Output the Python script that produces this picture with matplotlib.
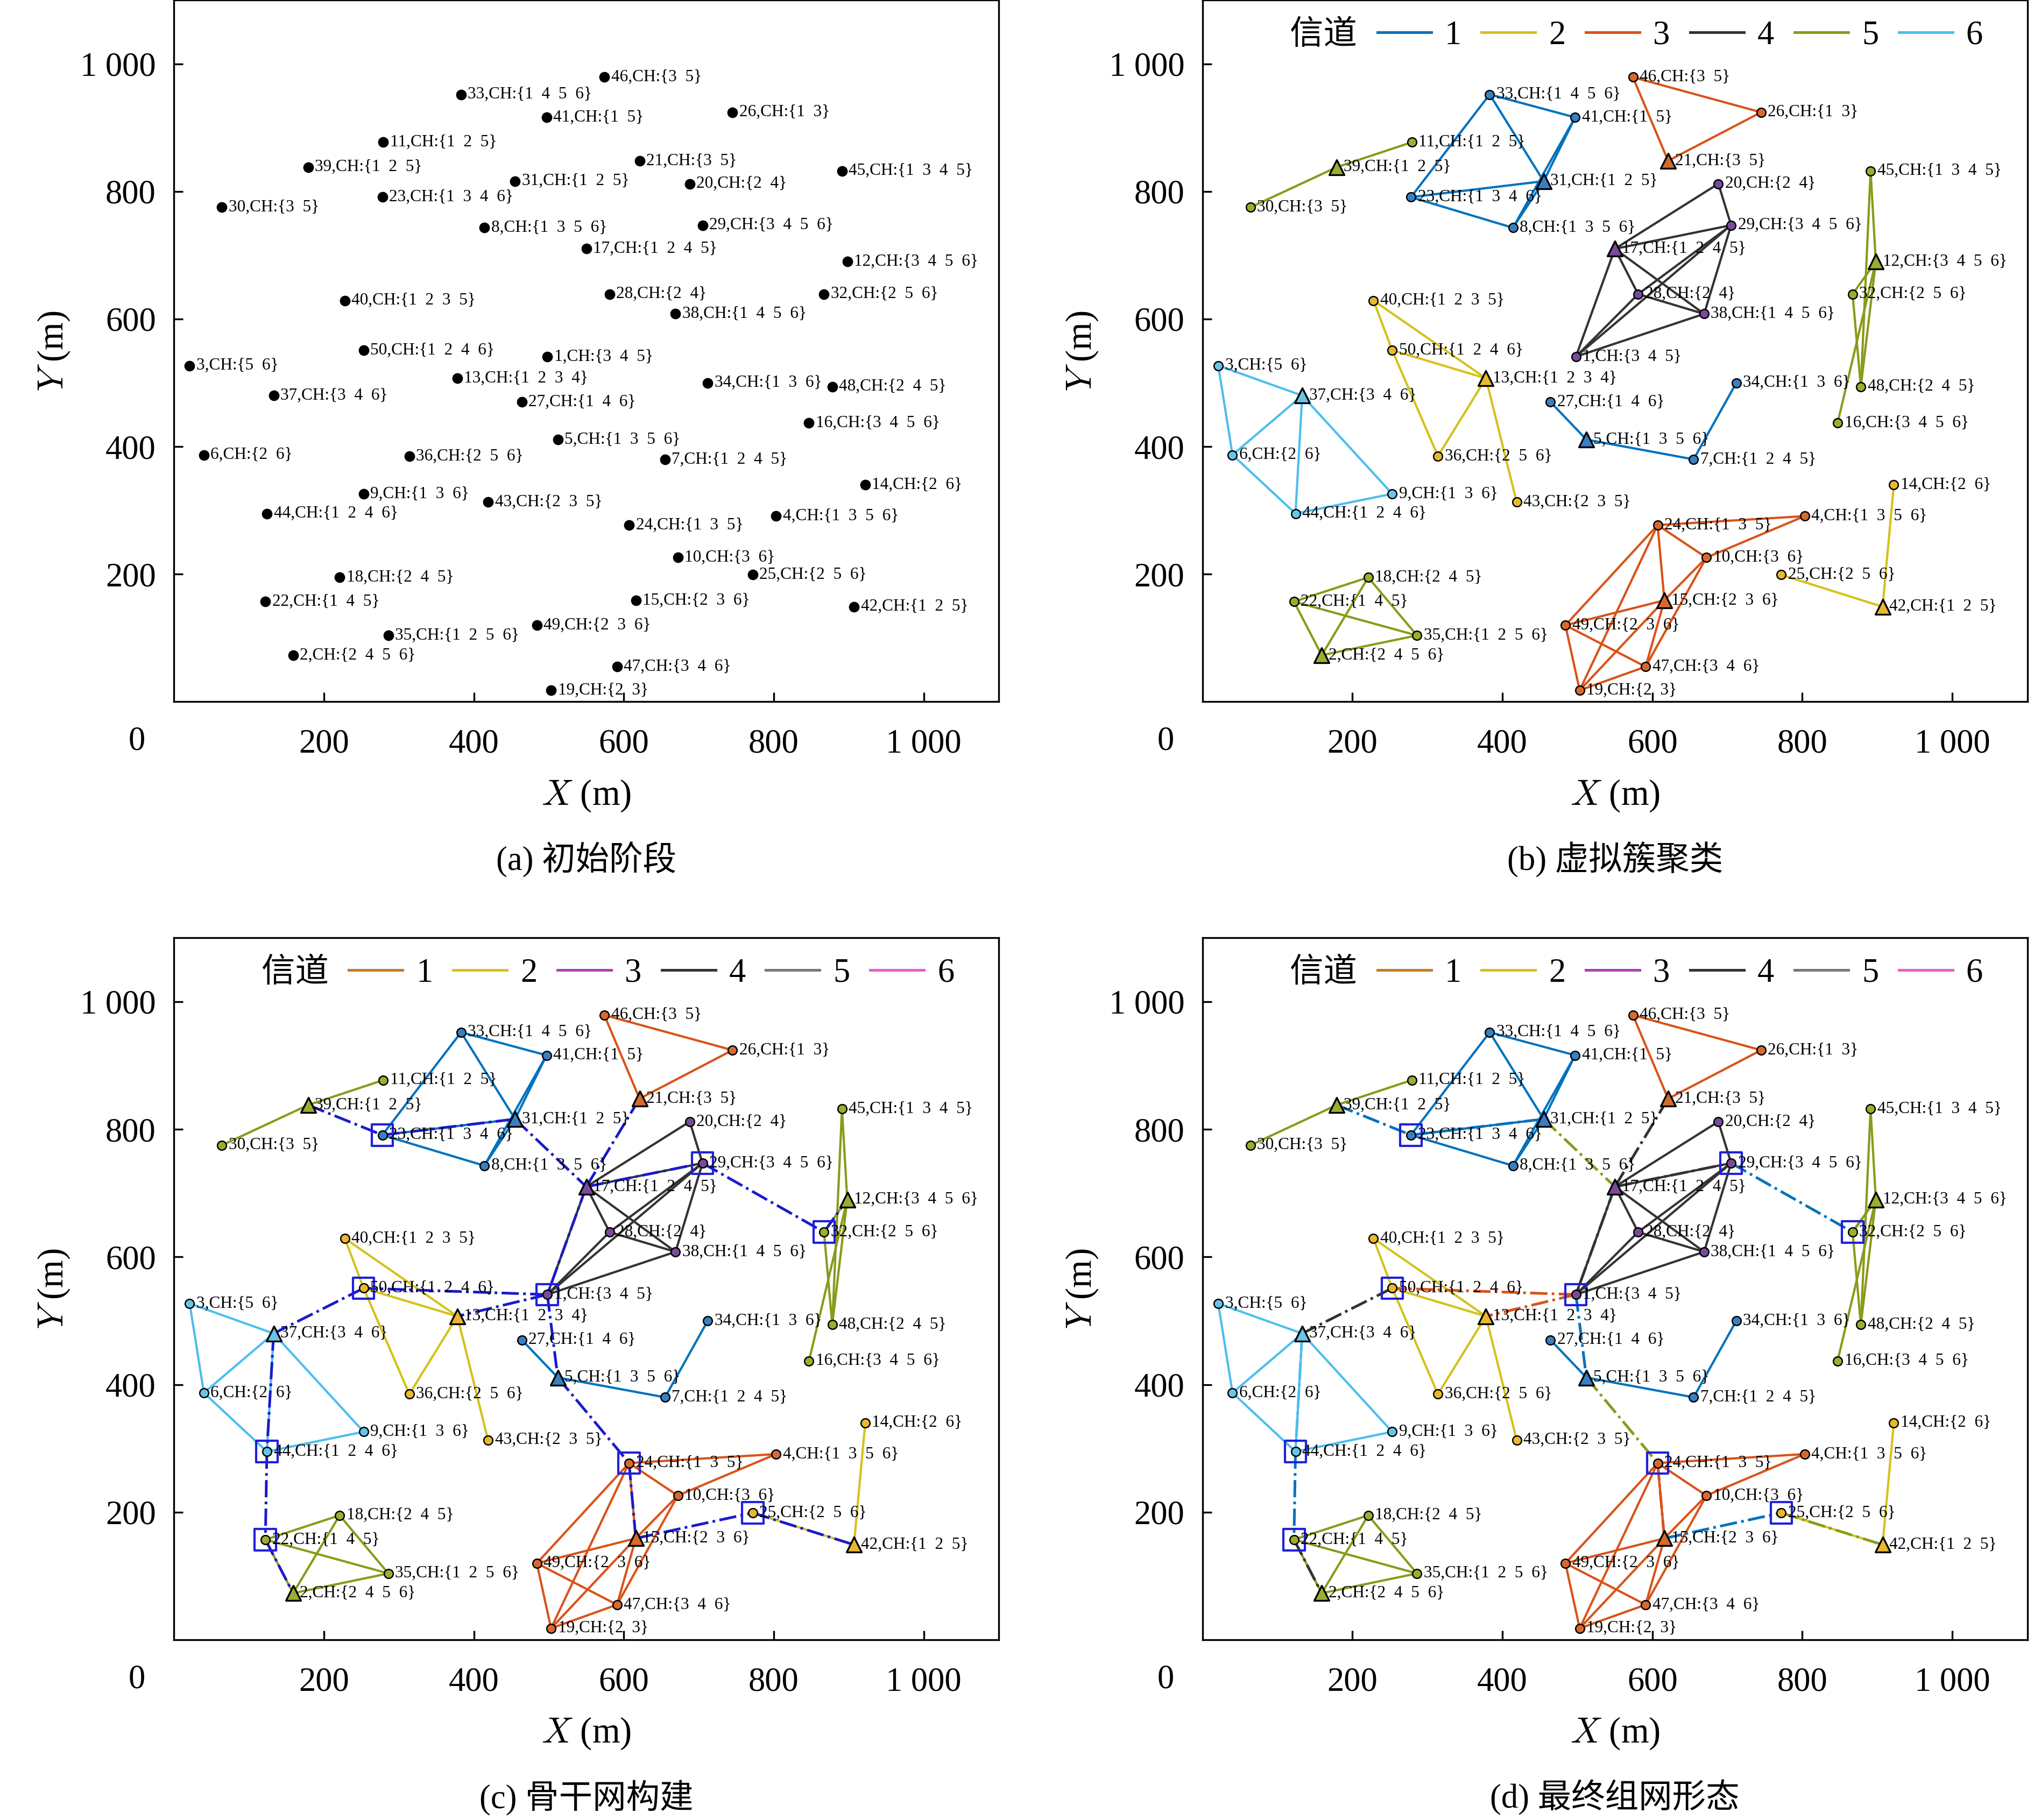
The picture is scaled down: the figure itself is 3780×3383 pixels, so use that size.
import numpy as np
import matplotlib.pyplot as plt
from matplotlib.lines import Line2D

plt.rcParams['font.family'] = ['Liberation Serif', 'Noto Sans CJK SC']
plt.rcParams['mathtext.fontset'] = 'cm'

# Node coordinates (m)
node_x = [498, 159, 21, 803, 512, 40, 655, 414, 253, 672,
          279, 898, 378, 922, 616, 847, 550, 221, 503, 688,
          621, 122, 278, 607, 772, 745, 464, 581, 705, 64,
          455, 867, 383, 712, 286, 314, 133, 669, 179, 228,
          497, 907, 419, 124, 891, 574, 591, 878, 484, 253]
node_y = [541, 73, 527, 291, 411, 387, 380, 743, 326, 226,
          877, 690, 507, 340, 159, 437, 710, 195, 18, 812,
          848, 157, 791, 277, 199, 924, 470, 639, 747, 775,
          816, 639, 952, 500, 104, 385, 480, 608, 838, 629,
          916, 149, 313, 295, 832, 979, 55, 494, 120, 551]
channels = [[3, 4, 5], [2, 4, 5, 6], [5, 6], [1, 3, 5, 6], [1, 3, 5, 6], [2, 6], [1, 2, 4, 5], [1, 3, 5, 6], [1, 3, 6], [3, 6],
            [1, 2, 5], [3, 4, 5, 6], [1, 2, 3, 4], [2, 6], [2, 3, 6], [3, 4, 5, 6], [1, 2, 4, 5], [2, 4, 5], [2, 3], [2, 4],
            [3, 5], [1, 4, 5], [1, 3, 4, 6], [1, 3, 5], [2, 5, 6], [1, 3], [1, 4, 6], [2, 4], [3, 4, 5, 6], [3, 5],
            [1, 2, 5], [2, 5, 6], [1, 4, 5, 6], [1, 3, 6], [1, 2, 5, 6], [2, 5, 6], [3, 4, 6], [1, 4, 5, 6], [1, 2, 5], [1, 2, 3, 5],
            [1, 5], [1, 2, 5], [2, 3, 5], [1, 2, 4, 6], [1, 3, 4, 5], [3, 5], [3, 4, 6], [2, 4, 5], [2, 3, 6], [1, 2, 4, 6]]

# Clusters: (channel, head, members, edges)
clusters = [
    (1, 31, [33, 41, 31, 23, 8], [(33, 41), (33, 23), (33, 31), (41, 31), (41, 8), (23, 31), (23, 8), (8, 31)]),
    (1, 5, [34, 27, 5, 7], [(27, 5), (5, 7), (7, 34)]),
    (3, 21, [46, 26, 21], [(46, 26), (46, 21), (26, 21)]),
    (3, 15, [24, 4, 10, 15, 49, 19, 47], [(24, 4), (24, 10), (24, 15), (24, 49), (24, 19), (10, 4), (10, 15), (10, 47),
                                          (15, 49), (15, 47), (15, 19), (49, 19), (49, 47), (19, 47)]),
    (4, 17, [20, 29, 17, 28, 38, 1], [(17, 20), (17, 29), (17, 28), (17, 38), (17, 1), (20, 29), (28, 29), (29, 38),
                                      (28, 38), (1, 29), (1, 28), (1, 38)]),
    (5, 39, [11, 39, 30], [(39, 11), (39, 30)]),
    (5, 12, [45, 12, 32, 48, 16], [(45, 12), (45, 48), (12, 32), (12, 48), (12, 16), (32, 48)]),
    (5, 2, [18, 22, 2, 35], [(18, 22), (18, 2), (18, 35), (22, 2), (22, 35), (2, 35)]),
    (2, 13, [40, 50, 13, 36, 43], [(40, 50), (40, 13), (50, 13), (50, 36), (13, 36), (13, 43)]),
    (2, 42, [14, 25, 42], [(14, 42), (25, 42)]),
    (6, 37, [3, 37, 6, 9, 44], [(3, 37), (3, 6), (37, 6), (37, 9), (37, 44), (6, 44), (9, 44)]),
]

gateways = [23, 50, 44, 22, 1, 24, 25, 29, 32]
backbone = [(39, 23), (23, 31), (31, 17), (17, 29), (29, 32), (32, 12), (21, 17), (17, 1), (1, 50),
            (50, 37), (37, 44), (44, 22), (22, 2), (1, 13), (1, 5), (5, 24), (24, 15), (15, 25), (25, 42)]
backbone_ch_d = [1, 1, 5, 4, 1, 5, 4, 4, 3, 4, 6, 1, 4, 3, 1, 5, 3, 1, 5]

ch_colors = {1: '#0072BD', 2: '#D4C21A', 3: '#D95319', 4: '#333333', 5: '#8A9A1A', 6: '#4DBEEE'}
node_fill = {1: '#3a7fc0', 2: '#e8b830', 3: '#d56a30', 4: '#7a4a9a', 5: '#9aae30', 6: '#6ac4e8'}
legend_b = [ch_colors[k] for k in range(1, 7)]
legend_c = ['#C8782A', '#D4C21A', '#B040B0', '#333333', '#777777', '#E060C0']

W, H = 3780, 3383
fig = plt.figure(figsize=(W / 300, H / 300), dpi=300)
rects = [(0.0855, 0.6144, 0.4055, 0.3856), (0.5912, 0.6144, 0.4055, 0.3856),
         (0.0855, 0.0990, 0.4055, 0.3857), (0.5912, 0.0990, 0.4055, 0.3857)]
captions = ['(a) 初始阶段', '(b) 虚拟簇聚类', '(c) 骨干网构建', '(d) 最终组网形态']


def P(n):
    return node_x[n - 1], node_y[n - 1]


for i, r in enumerate(rects):
    ax = fig.add_axes(r)
    ax.set_xlim(0, 1100)
    ax.set_ylim(0, 1100)
    ticks = [200, 400, 600, 800, 1000]
    lbls = ['200', '400', '600', '800', '1 000']
    ax.set_xticks(ticks, lbls)
    ax.set_yticks(ticks, lbls)
    ax.tick_params(direction='in', labelsize=15, length=4)
    ax.tick_params(axis='x', pad=12)
    ax.tick_params(axis='y', pad=8)
    ax.text(-0.045, -0.057, '0', transform=ax.transAxes, fontsize=15, ha='center', va='center')
    ax.set_xlabel('$X$ (m)', fontsize=16, labelpad=8)
    ax.set_ylabel('$Y$ (m)', fontsize=16, labelpad=4)
    ax.text(0.5, -0.225, captions[i], transform=ax.transAxes, fontsize=15, ha='center', va='center')

    if i == 0:
        ax.scatter(node_x, node_y, s=14, color='black', zorder=3)
    else:
        for ch, head, members, edges in clusters:
            for a, b in edges:
                (x1, y1), (x2, y2) = P(a), P(b)
                ax.plot([x1, x2], [y1, y2], color=ch_colors[ch], lw=1.0, zorder=2)
            for m in members:
                x, y = P(m)
                if m == head:
                    ax.scatter(x, y, marker='^', s=45, color=node_fill[ch], edgecolors='black', lw=0.8, zorder=4)
                else:
                    ax.scatter(x, y, marker='o', s=16, color=node_fill[ch], edgecolors='black', lw=0.6, zorder=4)
        if i >= 2:
            for k, (a, b) in enumerate(backbone):
                (x1, y1), (x2, y2) = P(a), P(b)
                c = '#1a1acc' if i == 2 else ch_colors[backbone_ch_d[k]]
                ax.plot([x1, x2], [y1, y2], color=c, lw=1.2, ls='-.', zorder=3)
            for g in gateways:
                x, y = P(g)
                ax.scatter(x, y, marker='s', s=90, facecolors='none', edgecolors='#2020dd', lw=1.0, zorder=5)
        cols = legend_b if i == 1 else legend_c
        handles = [Line2D([], [], color='none')] + [Line2D([], [], color=c, lw=1.2) for c in cols]
        labels = ['信道'] + [str(k) for k in range(1, 7)]
        ax.legend(handles, labels, loc='upper left', bbox_to_anchor=(0.0, 1.0), ncol=7, frameon=False,
                  fontsize=15, handlelength=1.6, handletextpad=0.4, columnspacing=0.6, borderaxespad=0.2)

    for n in range(1, 51):
        x, y = P(n)
        s = '  '.join(str(c) for c in channels[n - 1])
        ax.text(x + 9, y, '%d,CH:{%s}' % (n, s), fontsize=7.5, va='center', ha='left', zorder=6)

fig.savefig('out.png', dpi=300)
